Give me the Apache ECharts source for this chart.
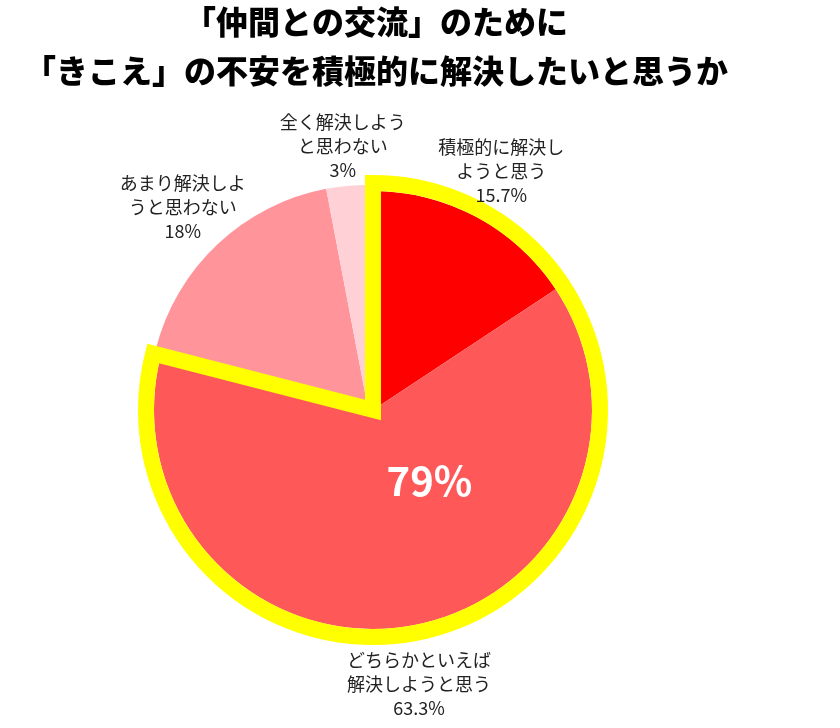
<!DOCTYPE html>
<html>
<head>
<meta charset="utf-8">
<script src="https://cdn.jsdelivr.net/npm/echarts@6/dist/echarts.min.js"></script>
<style>
html,body{margin:0;padding:0;background:#ffffff;}
#chart{width:840px;height:728px;}
</style>
</head>
<body>
<div id="chart"></div>
<script>
// ---- data ----
const titleLines = ['「仲間との交流」のために', '「きこえ」の不安を積極的に解決したいと思うか'];
const categories = [
  '積極的に解決し\nようと思う',
  'どちらかといえば\n解決しようと思う',
  'あまり解決しよ\nうと思わない',
  '全く解決しよう\nと思わない'
];
const values = [15.7, 63.3, 18, 3];
const highlightGroup = [0, 1];   // the "解決したい" side, outlined in yellow
const otherGroup = [2, 3];

// ---- styles ----
const colors = ['#ff0000', '#ff5858', '#ff959b', '#ffd1d7'];
const FONT = '"Noto Sans CJK JP", "Noto Sans", sans-serif';
const labelGap = [52, 59, 51, 40];

const highlightTotal = highlightGroup.reduce((s, i) => s + values[i], 0);
const otherTotal = otherGroup.reduce((s, i) => s + values[i], 0);

function outsideLayout(p) {
  const pts = p.labelLinePoints;
  if (!pts || pts.length < 2) return {};
  const dx = pts[1][0] - pts[0][0], dy = pts[1][1] - pts[0][1];
  const l = Math.hypot(dx, dy) || 1;
  const g = labelGap[p.dataIndex];
  return { x: pts[0][0] + dx / l * g, y: pts[0][1] + dy / l * g, align: 'center', verticalAlign: 'middle' };
}

function sliceData(visibleIdx) {
  return values.map((v, i) => {
    const vis = visibleIdx.indexOf(i) >= 0;
    return {
      name: categories[i],
      value: v,
      itemStyle: { color: vis ? colors[i] : 'rgba(0,0,0,0)', borderWidth: 0 },
      label: { show: vis },
      labelLine: { show: vis }
    };
  });
}

const commonLabel = {
  show: true,
  position: 'outside',
  formatter: p => p.name + '\n' + p.value + '%',
  color: '#222222',
  fontFamily: FONT,
  fontSize: 18,
  lineHeight: 24,
  align: 'center'
};
const commonLine = { show: true, length: 20, length2: 0, minTurnAngle: 0, maxSurfaceAngle: 180, lineStyle: { opacity: 0 } };

const chart = echarts.init(document.getElementById('chart'), null, { renderer: 'canvas' });
chart.setOption({
  animation: false,
  backgroundColor: '#ffffff',
  title: {
    text: titleLines.join('\n'),
    left: 376,
    top: -3,
    textAlign: 'center',
    padding: 0,
    textStyle: { fontFamily: FONT, fontSize: 32, fontWeight: 900, color: '#000000', lineHeight: 49 }
  },
  series: [
    {
      type: 'pie',
      name: 'other',
      silent: true,
      center: [367, 403],
      radius: 218,
      startAngle: 90,
      clockwise: true,
      avoidLabelOverlap: false,
      label: commonLabel,
      labelLine: commonLine,
      labelLayout: outsideLayout,
      emphasis: { disabled: true },
      data: sliceData(otherGroup)
    },
    {
      type: 'pie',
      name: 'highlight',
      silent: true,
      center: [373, 410],
      radius: 219,
      startAngle: 90,
      clockwise: true,
      avoidLabelOverlap: false,
      label: commonLabel,
      labelLine: commonLine,
      labelLayout: outsideLayout,
      emphasis: { disabled: true },
      data: sliceData(highlightGroup)
    },
    {
      type: 'pie',
      name: 'outline',
      silent: true,
      center: [373, 410],
      radius: 227,
      startAngle: 90,
      clockwise: true,
      avoidLabelOverlap: false,
      emphasis: { disabled: true },
      labelLine: { show: false },
      labelLayout: p => (p.dataIndex === 0 ? { dx: -15, dy: -21 } : {}),
      data: [
        {
          value: highlightTotal,
          itemStyle: { color: 'rgba(0,0,0,0)', borderColor: '#ffff00', borderWidth: 16, borderJoin: 'miter', borderMiterLimit: 10 },
          label: {
            show: true, position: 'inside',
            formatter: p => Math.round(p.value) + '%',
            color: '#ffffff', fontFamily: FONT, fontSize: 40, fontWeight: 'bold'
          }
        },
        {
          value: otherTotal,
          itemStyle: { color: 'rgba(0,0,0,0)', borderWidth: 0 },
          label: { show: false }
        }
      ]
    }
  ]
});
</script>
</body>
</html>
